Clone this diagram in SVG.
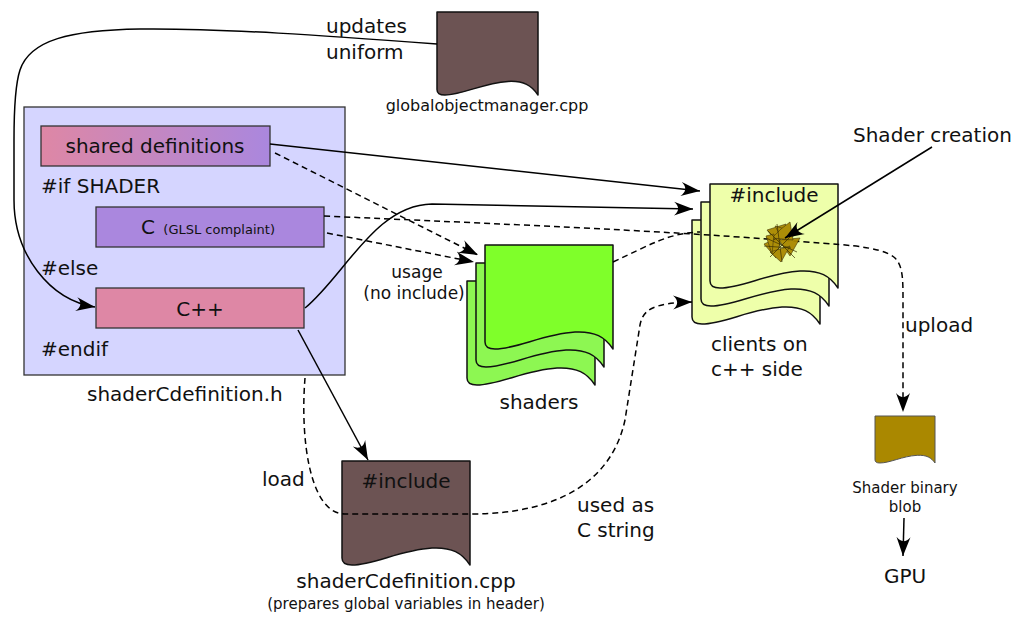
<svg xmlns="http://www.w3.org/2000/svg" width="1022" height="619" viewBox="0 0 1022 619">
  <defs>
    <style>
      text { font-family: "DejaVu Sans", "Liberation Sans", sans-serif; fill: #111; }
      .t20 { font-size: 20px; }
      .t17 { font-size: 17px; }
      .t16 { font-size: 16px; }
      .t15 { font-size: 15px; }
      .t13 { font-size: 13px; }
      .mid { text-anchor: middle; }
      .box { stroke: #333; stroke-width: 1.3; }
      .doc { stroke: #111; stroke-width: 1.5; stroke-linejoin: round; }
      .con { fill: none; stroke: #000; stroke-width: 1.5; }
      .dash { stroke-dasharray: 6 4; }
      .arr { marker-end: url(#ah); }
    </style>
    <linearGradient id="sharedGrad" x1="0" y1="0" x2="1" y2="0">
      <stop offset="0" stop-color="#de87a5"/>
      <stop offset="1" stop-color="#aa87de"/>
    </linearGradient>
    <marker id="ah" viewBox="-19 -8 21 16" refX="0" refY="0" markerWidth="21" markerHeight="16" markerUnits="userSpaceOnUse" orient="auto">
      <path d="M0,0 L-19,-7 C-13.5,-2.5 -13.5,2.5 -19,7 Z" fill="#000"/>
    </marker>
    <!-- page outline with wavy bottom edge, 128 x 104 -->
    <path id="page" d="M0,0 H128 V104 C120,92 110,86 90,87 C58,89 32,104 10,104 C3,104 0,101 0,97 Z"/>
  </defs>

  <rect width="1022" height="619" fill="#fff"/>

  <!-- header file with conditional sections -->
  <g id="header-file">
    <rect x="24" y="107" width="321" height="268" fill="#d5d5ff" class="box"/>
    <text x="41" y="193" class="t20">#if SHADER</text>
    <text x="41" y="275" class="t20">#else</text>
    <text x="41" y="356" class="t20">#endif</text>
    <text x="87" y="401" class="t20">shaderCdefinition.h</text>
  </g>
  <g id="shared-definitions">
    <rect x="41" y="126" width="229" height="40" fill="url(#sharedGrad)" class="box"/>
    <text x="155" y="153" class="t20 mid">shared definitions</text>
  </g>
  <g id="c-section">
    <rect x="96" y="207" width="228" height="40" fill="#aa87de" class="box"/>
    <text x="141" y="234" class="t20">C <tspan class="t13" dx="2">(GLSL complaint)</tspan></text>
  </g>
  <g id="cpp-section">
    <rect x="96" y="288" width="208" height="40" fill="#de87a5" class="box"/>
    <text x="200" y="316" class="t20 mid">C++</text>
  </g>

  <!-- globalobjectmanager.cpp -->
  <g id="global-object-manager">
    <path transform="translate(437,12)" d="M0,0 H101 V83 C94.7,73.4 86.8,68.6 71,69.4 C45.8,71 25.2,83 7.9,83 C2.4,83 0,80.6 0,77.4 Z" fill="#6c5353" class="doc"/>
    <text x="487" y="111" class="t16 mid">globalobjectmanager.cpp</text>
  </g>

  <!-- shader sources -->
  <g id="shaders">
    <use href="#page" transform="translate(467,281)" fill="#8df752" class="doc"/>
    <use href="#page" transform="translate(476,263)" fill="#8df752" class="doc"/>
    <use href="#page" transform="translate(485,245)" fill="#7fff2a" class="doc"/>
    <text x="539" y="409" class="t20 mid">shaders</text>
  </g>

  <!-- C++ client sources -->
  <g id="clients">
    <use href="#page" transform="translate(692,220)" fill="#eeffaa" class="doc"/>
    <use href="#page" transform="translate(701,202)" fill="#eeffaa" class="doc"/>
    <use href="#page" transform="translate(710,184)" fill="#eeffaa" class="doc"/>
    <text x="774" y="202" class="t20 mid">#include</text>
    <text x="711" y="351" class="t20">clients on</text>
    <text x="711" y="376" class="t20">c++ side</text>
  </g>

  <!-- shaderCdefinition.cpp -->
  <g id="shader-c-definition-cpp">
    <use href="#page" transform="translate(342,461)" fill="#6c5353" class="doc"/>
    <text x="406" y="488" class="t20 mid">#include</text>
    <text x="406" y="588" class="t20 mid">shaderCdefinition.cpp</text>
    <text x="406" y="609" class="t15 mid">(prepares global variables in header)</text>
  </g>

  <!-- binary blob and GPU -->
  <g id="shader-binary-blob">
    <path transform="translate(875,416)" d="M0,0 H60 V47 C56.3,41.6 51.6,38.9 42.2,39.3 C27.2,40.2 15,47 4.7,47 C1.4,47 0,45.7 0,43.8 Z" fill="#aa8800" stroke="#555" stroke-width="1"/>
    <text x="905" y="493" class="t15 mid">Shader binary</text>
    <text x="905" y="512" class="t15 mid">blob</text>
  </g>
  <g id="gpu">
    <text x="905" y="583" class="t20 mid">GPU</text>
  </g>

  <!-- connectors -->
  <g id="connectors">
    <path class="con arr" d="M437,44 C330,36 220,28 140,29 C70,30 30,40 20,70 C15,85 14,110 14,140 L14,200 C14,255 50,300 95,307"/>
    <path class="con arr" d="M270,144 C400,158 550,175 700,191"/>
    <path class="con dash arr" d="M275,153 L478,255"/>
    <path class="con dash arr" d="M327,233 L474,262"/>
    <path class="con dash arr" d="M324,216 C500,224 650,230 780,240 C840,245 880,245 895,258 C903,266 903,280 903,300 L903,412"/>
    <path class="con dash" d="M613,262 C650,245 668,233 700,232"/>
    <path class="con arr" d="M305,308 C345,275 375,205 432,204 L693,209"/>
    <path class="con arr" d="M298,330 L368,460"/>
    <path class="con dash arr" d="M305,378 C300,440 310,514 345,514 L470,514 C560,514 612,480 625,420 L640,325 C643,310 652,303 692,302"/>
    <path class="con arr" d="M904,518 L903,556"/>
  </g>

  <!-- shader creation scribble -->
  <g id="shader-creation">
    <g fill="#aa8800" stroke="#3a2e00" stroke-width="0.6" stroke-linejoin="round" opacity="0.95">
      <polygon points="767,230 786,224 778,244"/>
      <polygon points="775,226 798,233 784,242"/>
      <polygon points="764,244 782,236 776,258"/>
      <polygon points="779,240 800,238 790,256"/>
      <polygon points="770,252 790,246 781,262"/>
      <polygon points="781,229 790,222 793,240 772,238"/>
      <polygon points="766,236 774,234 772,254"/>
    </g>
    <path d="M766,238 L797,252 M770,257 L793,234 M764,246 L791,248 M777,224 L782,262 M768,231 L795,258" stroke="#3a2e00" stroke-width="0.7" fill="none"/>
    <text x="853" y="142" class="t20">Shader creation</text>
    <path class="con arr" d="M932,147 L785,238"/>
  </g>

  <!-- connector labels -->
  <g id="labels">
    <text x="326" y="33" class="t20">updates</text>
    <text x="326" y="59" class="t20">uniform</text>
    <text x="417" y="278" class="t17 mid">usage</text>
    <text x="414" y="299" class="t17 mid">(no include)</text>
    <text x="262" y="486" class="t20">load</text>
    <text x="577" y="512" class="t20">used as</text>
    <text x="577" y="537" class="t20">C string</text>
    <text x="905" y="332" class="t20">upload</text>
  </g>
</svg>
